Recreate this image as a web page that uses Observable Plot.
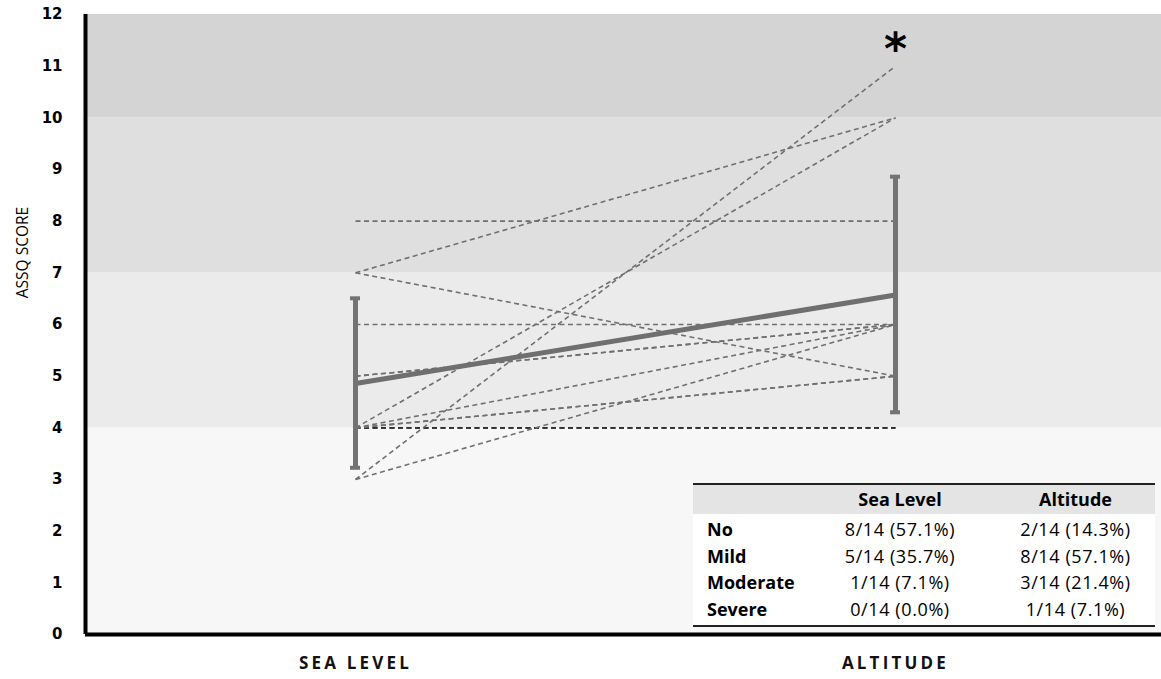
<!DOCTYPE html>
<html>
<head>
<meta charset="utf-8">
<script src="https://cdn.jsdelivr.net/npm/d3@7"></script>
<script src="https://cdn.jsdelivr.net/npm/@observablehq/plot@0.6"></script>
<style>
  body { margin: 0; background: #fff; }
  #wrap { position: relative; width: 1161px; height: 679px; }
  #tbl {
    position: absolute; left: 693px; top: 483px; width: 462px;
    border-collapse: collapse; table-layout: fixed;
    font-family: "Open Sans", sans-serif; font-size: 18px; color: #000;
    background: #fff; border-top: 2px solid #222; border-bottom: 2px solid #222;
  }
  #tbl th, #tbl td { padding: 0; line-height: 26.7px; white-space: nowrap; }
  #tbl thead tr { background: #e4e4e4; }
  #tbl thead th { height: 29px; line-height: 29px; font-weight: bold; text-align: center; }
  #tbl tbody td { text-align: center; letter-spacing: 0.6px; }
  #tbl tbody td:first-child { text-align: left; padding-left: 14px; font-weight: bold; letter-spacing: 0; }
  #tbl .c3 { padding-left: 12px; }
  #tbl tbody tr:first-child td { padding-top: 2px; }
  #tbl tbody tr:last-child td { padding-bottom: 2px; }
</style>
</head>
<body>
<div id="wrap"></div>
<script>
// Conditions on the x axis
const conditions = ["SEA LEVEL", "ALTITUDE"];

// Individual ASSQ scores, one entry per subject (paired by index)
const seaLevel = [8, 7, 7, 6, 5, 5, 4, 4, 4, 4, 4, 4, 3, 3];
const altitude = [8, 10, 5, 6, 6, 6, 4, 4, 10, 6, 5, 5, 11, 6];

// Standard deviation shown by the error bars
const sdScores = [1.64, 2.28];

// Severity bands of the ASSQ score
const bandEdges = [0, 4, 7, 10, 12];
const bandFills = ["#f7f7f7", "#ebebeb", "#dfdfdf", "#d4d4d4"];

// Severity table
const severity = ["No", "Mild", "Moderate", "Severe"];
const seaCounts = [8, 5, 1, 0];
const altCounts = [2, 8, 3, 1];
const nSubjects = 14;

// Y ticks
const yTicks = d3.range(0, 13);

const subjects = seaLevel.map((s, i) => ({sea: s, alt: altitude[i]}));
const groups = [seaLevel, altitude];
const summary = conditions.map((c, i) => ({
  i,
  mean: d3.mean(groups[i]),
  sd: sdScores[i]
}));
const caps = summary.flatMap(d => [
  {i: d.i, v: d.mean - d.sd},
  {i: d.i, v: d.mean + d.sd}
]);
const bands = bandFills.map((f, k) => ({lo: bandEdges[k], hi: bandEdges[k + 1], fill: f}));
const star = [{i: 1, v: d3.max(altitude)}];
const barColor = "#737373";
// subjects who stayed symptom-free are drawn darker
const lineColor = d => (d.sea === d.alt && d.sea <= bandEdges[1]) ? "#2e2e2e" : "#707070";

const chart = Plot.plot({
  width: 1161,
  height: 679,
  marginLeft: 85,
  marginRight: 0,
  marginTop: 14,
  marginBottom: 45,
  style: {background: "transparent"},
  x: {domain: [-0.5, 1.5], range: [85, 1165], axis: null},
  y: {domain: [0, 12], axis: null},
  color: {type: "identity"},
  marks: [
    Plot.rect(bands, {y1: "lo", y2: "hi", fill: "fill"}),
    Plot.link(subjects, {
      x1: () => 0, x2: () => 1, y1: "sea", y2: "alt",
      stroke: lineColor, strokeWidth: 1.6, strokeDasharray: "5,3.5"
    }),
    Plot.line(summary, {x: "i", y: "mean", stroke: "#6f6f6f", strokeWidth: 5}),
    Plot.ruleX(summary, {x: "i", y1: d => d.mean - d.sd, y2: d => d.mean + d.sd, stroke: barColor, strokeWidth: 5}),
    Plot.rect(caps, {
      x1: "i", x2: "i", y1: "v", y2: "v",
      insetLeft: -5, insetRight: -5, insetTop: -2, insetBottom: -2, fill: barColor
    }),
    Plot.ruleX([-0.5], {stroke: "#000", strokeWidth: 4}),
    Plot.ruleY([0], {stroke: "#000", strokeWidth: 4}),
    Plot.axisY(yTicks, {
      tickSize: 0, tickPadding: 23, tickFormat: d => d, label: null,
      fontFamily: "DejaVu Sans", fontWeight: "bold", fontSize: 15, fill: "#000"
    }),
    Plot.text(["ASSQ SCORE"], {
      frameAnchor: "left", textAnchor: "middle", rotate: -90, dx: -62, dy: -72,
      fontFamily: "'Open Sans', sans-serif", fontSize: 15.5, fill: "#000"
    }),
    Plot.text(conditions, {
      x: (d, i) => i, frameAnchor: "bottom", dy: 29, lineAnchor: "middle",
      fontFamily: "'Open Sans', sans-serif", fontWeight: "bold", fontSize: 17, fill: "#111"
    }),
    Plot.text(star, {
      x: "i", y: "v", text: () => "*", dy: -16, lineAnchor: "middle",
      fontFamily: "DejaVu Sans", fontWeight: "bold", fontSize: 44, fill: "#000"
    })
  ]
});

// Spaced-out capitals for the condition labels
chart.querySelectorAll("text").forEach(t => {
  if (conditions.includes(t.textContent)) t.style.letterSpacing = "3.2px";
});

const wrap = document.getElementById("wrap");
wrap.appendChild(chart);

// Severity table drawn over the lower right of the plot
const pct = c => `${c}/${nSubjects} (${(100 * c / nSubjects).toFixed(1)}%)`;
const table = document.createElement("table");
table.id = "tbl";
table.innerHTML =
  `<colgroup><col style="width:123px"><col style="width:168px"><col style="width:171px"></colgroup>` +
  `<thead><tr><th></th><th>Sea Level</th><th class="c3">Altitude</th></tr></thead>` +
  `<tbody>` +
  severity.map((s, k) =>
    `<tr><td>${s}</td><td>${pct(seaCounts[k])}</td><td class="c3">${pct(altCounts[k])}</td></tr>`
  ).join("") +
  `</tbody>`;
wrap.appendChild(table);
</script>
</body>
</html>
